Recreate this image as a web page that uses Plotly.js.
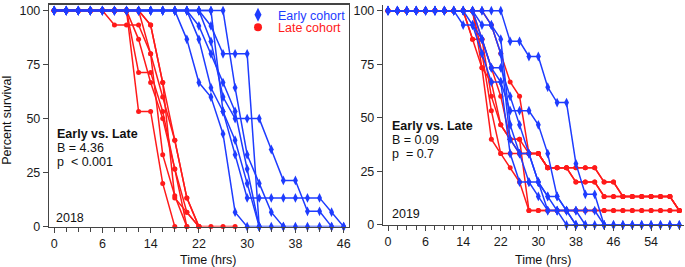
<!DOCTYPE html>
<html><head><meta charset="utf-8">
<script src="https://cdn.plot.ly/plotly-3.0.1.min.js"></script>
<style>html,body{margin:0;padding:0;background:#fff}#chart{width:685px;height:267px}</style>
</head><body><div id="chart"></div>
<script>
// Sampling slots (plot units; every 2 units one observation)
const slots2018 = [0,2,4,6,8,10,12,14,16,18,20,22,24,26,28,30,32,34,36,38,40,42,44,46,48];
const slots2019 = [0,2,4,6,8,10,12,14,16,18,20,22,24,26,28,30,32,34,36,38,40,42,44,46,48,50,52,54,56,58,60,62];
const tickSlots = [0,8,16,24,32,40,48,56];
const tickLabels = ["0","6","14","22","30","38","46","54"];
const yTicks = [0,25,50,75,100];

// 2018 late cohort (red) – percent survival per replicate
const late2018 = [
  [100,100,100,100,100,93.3,93.3,93.3,80,60,40,13.3,0,0,0,0],
  [100,100,100,100,100,100,100,86.7,66.7,50,26.7,6.7,0],
  [100,100,100,100,100,100,100,71.4,71.4,53.3,26.7,0],
  [100,100,100,100,100,100,100,53.3,53.3,20,0],
  [100,100,100,100,100,100,100,100,93.3,66.7,40,13.3,0],
  [100,100,100,100,100,100,100,100,80,33.3,14.3,0],
  [100,100,100,100,100,100,100,100,93.3,66.7,13.3,6.7,0]
];
// 2018 early cohort (blue)
const early2018 = [
  [100,100,100,100,100,100,100,100,100,100,100,86.7,66.7,60,42.9,6.7,0,0,0,0,0,0,0,0,0],
  [100,100,100,100,100,100,100,100,100,100,100,100,92.9,80,66.7,53.3,26.7,0],
  [100,100,100,100,100,100,100,100,100,100,100,100,86.7,64.3,53.3,40,20,0],
  [100,100,100,100,100,100,100,100,100,100,100,100,100,92.9,80,80,80,0],
  [100,100,100,100,100,100,100,100,100,100,100,100,100,85.7,60,50,50,50,35.7,21.4,21.4,7.1,7.1,0],
  [100,100,100,100,100,100,100,100,100,100,100,100,100,100,53.3,33.3,13.3,13.3,13.3,13.3,13.3,13.3,13.3,6.7,0],
  [100,100,100,100,100,100,100,100,100,100,100,100,100,100,100,64.3,33.3,20,6.7,0]
];
// 2019 late cohort (red)
const late2019 = [
  [100,100,100,100,100,100,100,100,100,86.7,86.7,60,46.7,40,40,33.3,33.3,26.7,26.7,26.7,20,20,20,13.3,13.3,13.3,13.3,13.3,13.3,13.3,13.3,6.7],
  [100,100,100,100,100,100,100,100,100,100,80,53.3,33.3,33.3,33.3,33.3,33.3,26.7,26.7,26.7,26.7,26.7,26.7,20,20,13.3,13.3,13.3,13.3,13.3,13.3,6.7],
  [100,100,100,100,100,100,100,100,100,100,73.3,40,33.3,26.7,20,6.7,6.7,6.7,6.7,6.7,6.7,6.7,6.7,6.7,6.7,6.7,6.7,6.7,6.7,6.7,6.7,6.7],
  [100,100,100,100,100,100,100,100,100,100,100,93.3,80,66.7,60,33.3,33.3,26.7,26.7,26.7,26.7,26.7,26.7,20,20,13.3,13.3,13.3,13.3,13.3,13.3,6.7],
  [100,100,100,100,100,100,100,100,100,86.7,73.3,66.7,46.7,40,40,6.7,6.7,6.7,6.7,6.7,6.7,6.7,6.7,6.7,6.7,6.7,6.7,6.7,6.7,6.7,6.7,6.7],
  [100,100,100,100,100,100,100,100,100,100,86.7,73.3,60,40,33.3,33.3,33.3,26.7,26.7,26.7,20,20,20,13.3,13.3,13.3,13.3,13.3,13.3,13.3,13.3,6.7]
];
// 2019 early cohort (blue)
const early2019 = [
  [100,100,100,100,100,100,100,100,100,100,100,100,100,85.7,85.7,78.6,78.6,64.3,57.1,57.1,28.6,14.3,14.3,0,0,0,0,0,0,0,0,0],
  [100,100,100,100,100,100,100,100,93.3,93.3,80,66.7,66.7,53.3,53.3,53.3,46.7,33.3,13.3,6.7,6.7,6.7,6.7,0],
  [100,100,100,100,100,100,100,100,100,93.3,86.7,73.3,73.3,60,46.7,33.3,20,13.3,6.7,0,0,0,0,0,0,0,0,0,0,0,0,0],
  [100,100,100,100,100,100,100,100,100,100,93.3,93.3,86.7,46.7,33.3,33.3,20,13.3,13.3,6.7,0],
  [100,100,100,100,100,100,100,100,100,100,86.7,73.3,66.7,33.3,20,20,13.3,6.7,6.7,6.7,0],
  [100,100,100,100,100,100,100,100,100,100,100,93.3,80,40,33.3,20,20,6.7,6.7,6.7,6.7,0]
];

const BLUE = '#1e3cff';
const RED = '#ff1a1a';
const FONT = 'Liberation Sans, Arial, Helvetica, sans-serif';
const W = 685, H = 267;
const px = v => v / W;
const py = v => 1 - v / H;

const traces = [];
function addGroup(series, slots, color, symbol, size, xa, ya) {
  series.forEach(s => traces.push({
    type: 'scatter', mode: 'lines+markers', x: slots, y: s, xaxis: xa, yaxis: ya,
    line: {color: color, width: 1.5}, marker: {color: color, symbol: symbol, size: size},
    showlegend: false, cliponaxis: false, hoverinfo: 'skip'
  }));
}
addGroup(late2018, slots2018, RED, 'circle', 5, 'x', 'y');
addGroup(early2018, slots2018, BLUE, 'diamond-tall', 7, 'x', 'y');
addGroup(late2019, slots2019, RED, 'circle', 5, 'x2', 'y2');
addGroup(early2019, slots2019, BLUE, 'diamond-tall', 7, 'x2', 'y2');

traces.push({type:'scatter', mode:'markers', x:[null], y:[null], xaxis:'x', yaxis:'y',
  marker:{color:BLUE, symbol:'diamond-tall', size:10}, legend:'legend',
  name:'<span style="color:'+BLUE+'">Early cohort</span>'});
traces.push({type:'scatter', mode:'markers', x:[null], y:[null], xaxis:'x', yaxis:'y',
  marker:{color:RED, symbol:'circle', size:8}, legend:'legend2',
  name:'<span style="color:'+RED+'">Late cohort</span>'});

function minorVals(maxU) { const m = []; for (let u = 2; u <= maxU; u += 2) if (u % 8) m.push(u); return m; }

const tickFont = {family: FONT, size: 12.5, color: '#1a1a1a'};
function xAxis(domain, range, maxU, mirror, anchor) {
  return {domain: domain, range: range, anchor: anchor, tickmode: 'array', tickvals: tickSlots, ticktext: tickLabels,
    ticks: 'outside', ticklen: 5, tickwidth: 1, tickcolor: '#444',
    minor: {tickmode: 'array', tickvals: minorVals(maxU), ticks: 'outside', ticklen: 4, tickwidth: 1, tickcolor: '#444'},
    showline: true, linecolor: '#444', linewidth: 1.5, mirror: mirror, showgrid: false, zeroline: false,
    tickfont: tickFont, fixedrange: true};
}
function yAxis(domain, range, mirror, anchor) {
  return {domain: domain, range: range, anchor: anchor, tickmode: 'array', tickvals: yTicks,
    ticks: 'outside', ticklen: 5, tickwidth: 1, tickcolor: '#444',
    showline: true, linecolor: '#444', linewidth: 1.5, mirror: mirror, showgrid: false, zeroline: false,
    tickfont: tickFont, fixedrange: true};
}

function note(text, x, y, opts) {
  return Object.assign({text: text, x: px(x), y: py(y), xref: 'paper', yref: 'paper', xanchor: 'left', yanchor: 'middle',
    showarrow: false, font: {family: FONT, size: 12.5, color: '#111'}}, opts || {});
}
function legendBox(yCenter) {
  return {x: px(238), y: py(yCenter), xanchor: 'left', yanchor: 'middle', bgcolor: 'rgba(0,0,0,0)',
    font: {family: FONT, size: 12.5}, itemclick: false, itemdoubleclick: false};
}

const layout = {
  width: W, height: H, margin: {l: 0, r: 0, t: 0, b: 0}, paper_bgcolor: '#fff', plot_bgcolor: '#fff',
  font: {family: FONT, size: 12.5, color: '#111'},
  xaxis: xAxis([px(49.3), px(348.5)], [-0.8, 48.8], 48, true, 'y'),
  yaxis: yAxis([py(226), py(1)], [0, 102.6], true, 'x'),
  xaxis2: xAxis([px(383.3), px(683.5)], [-1, 62.9], 62, false, 'y2'),
  yaxis2: yAxis([py(224.3), py(1.3)], [0, 102.5], false, 'x2'),
  showlegend: true,
  legend: legendBox(11),
  legend2: legendBox(24),
  annotations: [
    note('<b>Early vs. Late</b>', 55, 131.7),
    note('B = 4.36', 55, 145.7),
    note('p\u00a0 &lt; 0.001', 55, 160.7),
    note('2018', 54, 217.5),
    note('<b>Early vs. Late</b>', 390, 124),
    note('B = 0.09', 390, 138.3),
    note('p\u00a0 = 0.7', 390, 152.7),
    note('2019', 390, 213.3),
    note('Time (hrs)', 208, 260, {xanchor: 'center'}),
    note('Time (hrs)', 542.5, 259.5, {xanchor: 'center'}),
    note('Percent survival', 7, 118.5, {xanchor: 'center', textangle: -90})
  ]
};

Plotly.newPlot('chart', traces, layout, {staticPlot: true, displayModeBar: false});
</script></body></html>
